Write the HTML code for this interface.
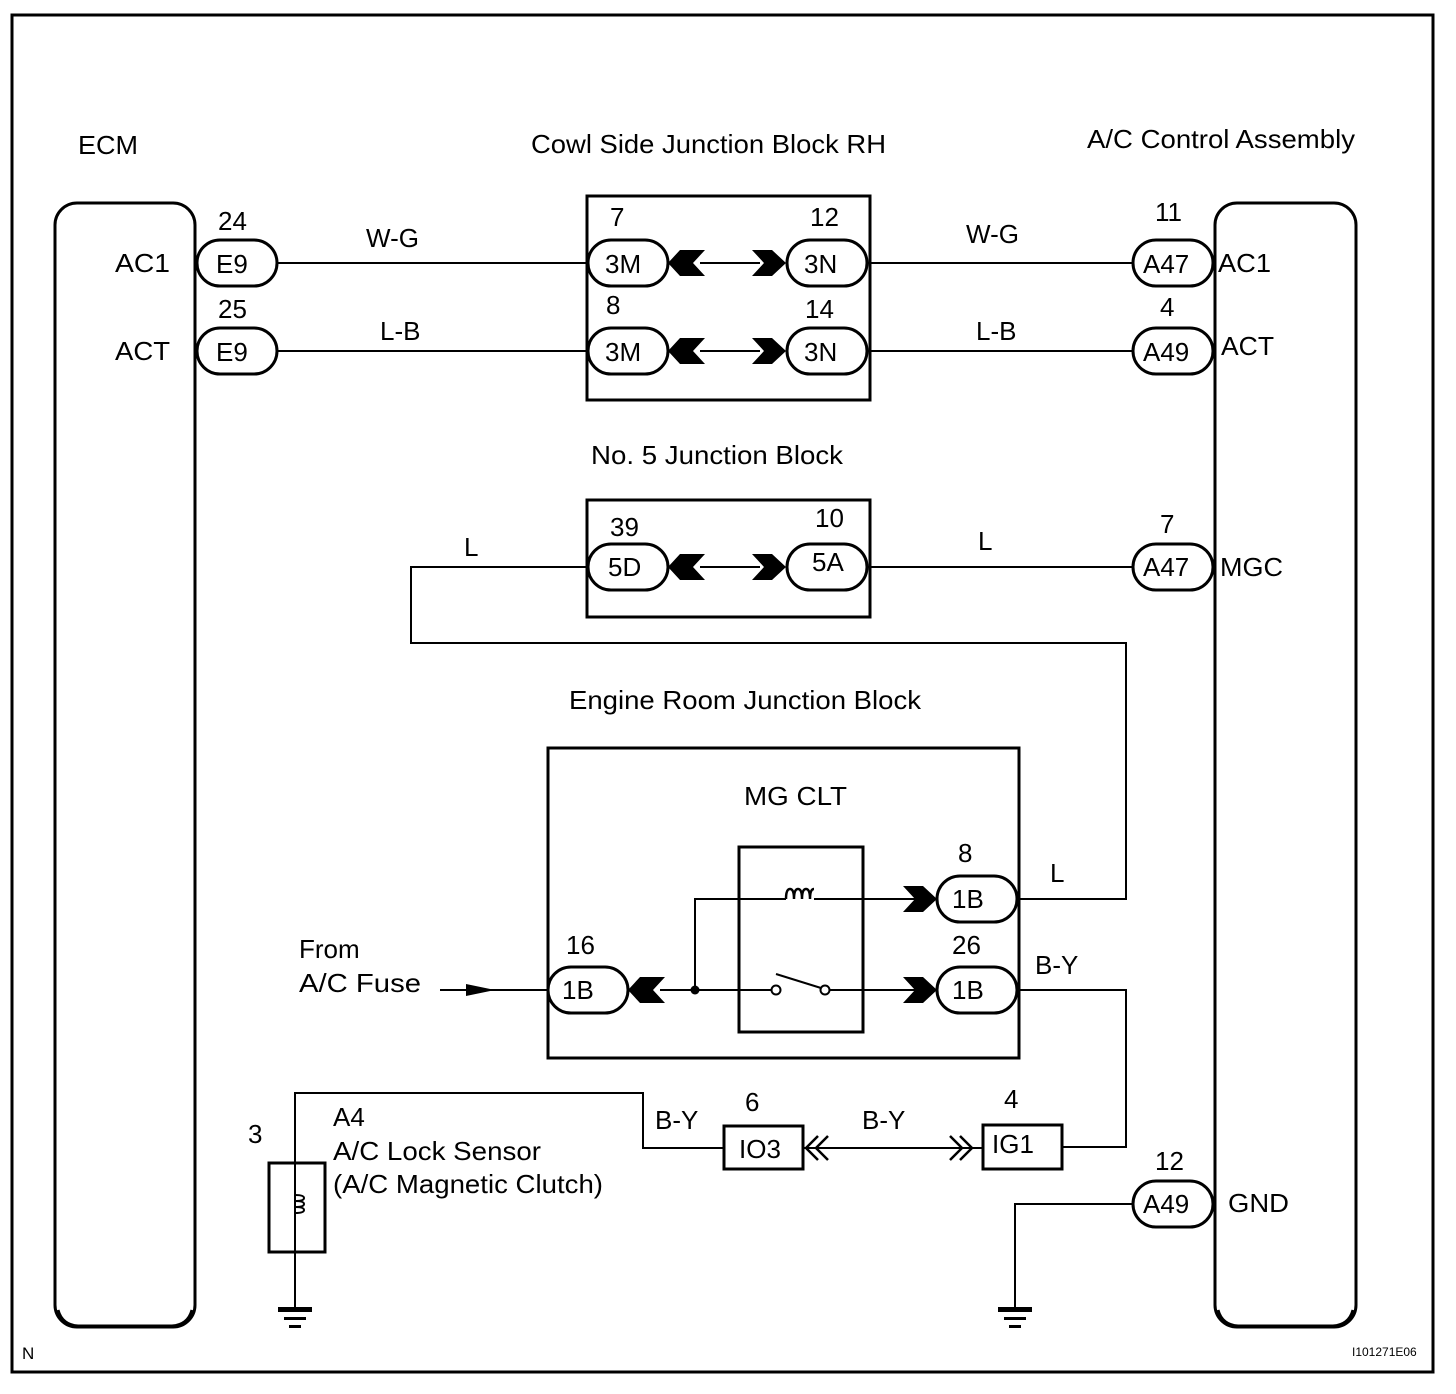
<!DOCTYPE html>
<html><head><style>
html,body{margin:0;padding:0;background:#fff;}
svg{display:block;}
text{font-family:"Liberation Sans",Arial,sans-serif;font-size:26px;fill:#000;}
</style></head><body>
<svg width="1456" height="1394" viewBox="0 0 1456 1394" xmlns="http://www.w3.org/2000/svg">
<defs>
<g id="fem"><polygon points="0,0 12,-13 37,-13 25,0 37,13 12,13" fill="#000"/></g>
<g id="mal"><polygon points="0,0 -14,-13 -34,-13 -22,0 -34,13 -14,13" fill="#000"/></g>
</defs>
<rect x="12" y="15" width="1421" height="1357" fill="none" stroke="#000" stroke-width="3"/>

<!-- ECM -->
<rect x="55" y="203" width="140" height="1124" rx="22" fill="none" stroke="#000" stroke-width="3"/>
<path d="M58,1310 Q62,1325 78,1326 H172 Q188,1325 192,1310" fill="none" stroke="#000" stroke-width="3"/>
<text x="78" y="154" textLength="60" lengthAdjust="spacingAndGlyphs">ECM</text>
<text x="115" y="272" textLength="55" lengthAdjust="spacingAndGlyphs">AC1</text>
<text x="115" y="360" textLength="55" lengthAdjust="spacingAndGlyphs">ACT</text>
<!-- A/C box -->
<rect x="1215" y="203" width="141" height="1124" rx="22" fill="none" stroke="#000" stroke-width="3"/>
<path d="M1218,1310 Q1222,1325 1238,1326 H1333 Q1349,1325 1353,1310" fill="none" stroke="#000" stroke-width="3"/>
<text x="1087" y="148" textLength="268" lengthAdjust="spacingAndGlyphs">A/C Control Assembly</text>
<text x="1218" y="272" textLength="53" lengthAdjust="spacingAndGlyphs">AC1</text>
<text x="1221" y="355" textLength="53" lengthAdjust="spacingAndGlyphs">ACT</text>
<text x="1220" y="576" textLength="63" lengthAdjust="spacingAndGlyphs">MGC</text>
<text x="1228" y="1212" textLength="61" lengthAdjust="spacingAndGlyphs">GND</text>

<g fill="#fff" stroke="#000" stroke-width="3">
<rect x="197" y="240" width="80" height="46" rx="23"/>
<rect x="197" y="328" width="80" height="46" rx="23"/>
<rect x="1133" y="240" width="80" height="46" rx="23"/>
<rect x="1133" y="328" width="80" height="46" rx="23"/>
<rect x="1133" y="544" width="80" height="46" rx="23"/>
<rect x="1133" y="1181" width="80" height="46" rx="23"/>
</g>
<g stroke="#000" stroke-width="2" fill="none">
<line x1="277" y1="263" x2="588" y2="263"/>
<line x1="277" y1="351" x2="588" y2="351"/>
<line x1="868" y1="263" x2="1133" y2="263"/>
<line x1="868" y1="351" x2="1133" y2="351"/>
<line x1="868" y1="567" x2="1133" y2="567"/>
<polyline points="588,567 411,567 411,643 1126,643 1126,899 1018,899"/>
<polyline points="1018,990 1126,990 1126,1147 1062,1147"/>
<polyline points="1133,1204 1015,1204 1015,1308"/>
<polyline points="724,1148 643,1148 643,1093 295,1093 295,1308"/>
<line x1="803" y1="1148" x2="983" y2="1148"/>
<line x1="440" y1="990" x2="548" y2="990"/>
</g>
<polygon points="466,984 495,990 466,996" fill="#000"/>
<text x="218" y="230">24</text><text x="218" y="318">25</text>
<text x="216" y="273">E9</text><text x="216" y="361">E9</text>
<text x="366" y="247">W-G</text><text x="380" y="340">L-B</text>
<text x="966" y="243">W-G</text><text x="976" y="340">L-B</text>
<text x="1155" y="221">11</text><text x="1160" y="316">4</text>
<text x="1143" y="273">A47</text><text x="1143" y="361">A49</text>
<text x="1160" y="533">7</text><text x="1143" y="576">A47</text>
<text x="1155" y="1170">12</text><text x="1143" y="1213">A49</text>
<text x="464" y="556">L</text><text x="978" y="550">L</text>

<!-- Cowl block -->
<text x="531" y="153" textLength="355" lengthAdjust="spacingAndGlyphs">Cowl Side Junction Block RH</text>
<rect x="587" y="196" width="283" height="204" fill="none" stroke="#000" stroke-width="3"/>
<g stroke="#000" stroke-width="2"><line x1="700" y1="263" x2="760" y2="263"/><line x1="700" y1="351" x2="760" y2="351"/><line x1="700" y1="567" x2="760" y2="567"/></g>
<g fill="#fff" stroke="#000" stroke-width="3">
<rect x="588" y="240" width="80" height="46" rx="23"/>
<rect x="588" y="328" width="80" height="46" rx="23"/>
<rect x="787" y="240" width="80" height="46" rx="23"/>
<rect x="787" y="328" width="80" height="46" rx="23"/>
</g>
<use href="#fem" x="668" y="263"/><use href="#fem" x="668" y="351"/>
<use href="#mal" x="786" y="263"/><use href="#mal" x="786" y="351"/>
<text x="610" y="226">7</text><text x="810" y="226">12</text>
<text x="606" y="314">8</text><text x="805" y="318">14</text>
<text x="605" y="273">3M</text><text x="605" y="361">3M</text>
<text x="804" y="273">3N</text><text x="804" y="361">3N</text>

<!-- No 5 -->
<text x="591" y="464" textLength="252" lengthAdjust="spacingAndGlyphs">No. 5 Junction Block</text>
<rect x="587" y="500" width="283" height="117" fill="none" stroke="#000" stroke-width="3"/>
<g fill="#fff" stroke="#000" stroke-width="3">
<rect x="588" y="544" width="80" height="46" rx="23"/>
<rect x="787" y="544" width="80" height="46" rx="23"/>
</g>
<use href="#fem" x="668" y="567"/><use href="#mal" x="786" y="567"/>
<text x="610" y="536">39</text><text x="815" y="527">10</text>
<text x="608" y="576">5D</text><text x="812" y="571">5A</text>

<!-- Engine room -->
<text x="569" y="709" textLength="352" lengthAdjust="spacingAndGlyphs">Engine Room Junction Block</text>
<rect x="548" y="748" width="471" height="310" fill="none" stroke="#000" stroke-width="3"/>
<text x="744" y="805" textLength="103" lengthAdjust="spacingAndGlyphs">MG CLT</text>
<rect x="739" y="847" width="124" height="185" fill="none" stroke="#000" stroke-width="3"/>
<g stroke="#000" stroke-width="2" fill="none">
<polyline points="660,990 771,990"/>
<polyline points="829,990 920,990"/>
<polyline points="695,990 695,899 786,899"/>
<polyline points="814,899 920,899"/>
<line x1="776" y1="974" x2="821" y2="988"/>
</g>
<path d="M786,899 q0,-10 4,-10 q4,0 4,10 q0,-10 4,-10 q4,0 4,10 q0,-10 4,-10 q4,0 4,10 q0,-10 4,-10" fill="none" stroke="#000" stroke-width="2.5"/>
<circle cx="695" cy="990" r="4.5" fill="#000"/>
<circle cx="776" cy="990" r="4.5" fill="#fff" stroke="#000" stroke-width="2"/>
<circle cx="825" cy="990" r="4.5" fill="#fff" stroke="#000" stroke-width="2"/>
<g fill="#fff" stroke="#000" stroke-width="3">
<rect x="548" y="967" width="80" height="46" rx="23"/>
<rect x="937" y="876" width="80" height="46" rx="23"/>
<rect x="937" y="967" width="80" height="46" rx="23"/>
</g>
<use href="#fem" x="628" y="990"/>
<use href="#mal" x="937" y="899"/><use href="#mal" x="937" y="990"/>
<text x="566" y="954">16</text><text x="958" y="862">8</text><text x="952" y="954">26</text>
<text x="562" y="999">1B</text><text x="952" y="908">1B</text><text x="952" y="999">1B</text>
<text x="1050" y="882">L</text><text x="1035" y="974">B-Y</text>
<text x="299" y="958">From</text><text x="299" y="992" textLength="122" lengthAdjust="spacingAndGlyphs">A/C  Fuse</text>

<!-- bottom -->
<rect x="724" y="1126" width="79" height="43" fill="#fff" stroke="#000" stroke-width="3"/>
<rect x="983" y="1125" width="79" height="44" fill="#fff" stroke="#000" stroke-width="3"/>
<text x="739" y="1158">IO3</text><text x="992" y="1153">IG1</text>
<text x="745" y="1111">6</text><text x="1004" y="1108">4</text>
<text x="655" y="1129">B-Y</text><text x="862" y="1129">B-Y</text>
<polyline points="818,1136 806,1148 818,1160" fill="none" stroke="#000" stroke-width="2.5"/>
<polyline points="828,1136 816,1148 828,1160" fill="none" stroke="#000" stroke-width="2.5"/>
<polyline points="950,1136 962,1148 950,1160" fill="none" stroke="#000" stroke-width="2.5"/>
<polyline points="960,1136 972,1148 960,1160" fill="none" stroke="#000" stroke-width="2.5"/>
<rect x="269" y="1163" width="56" height="89" fill="none" stroke="#000" stroke-width="3"/>
<path d="M295,1195 q9,0 9,3 q0,3 -9,3 q9,0 9,3 q0,3 -9,3 q9,0 9,3 q0,3 -9,3" fill="none" stroke="#000" stroke-width="2"/>
<text x="248" y="1143">3</text>
<text x="333" y="1126">A4</text>
<text x="333" y="1160" textLength="208" lengthAdjust="spacingAndGlyphs">A/C Lock Sensor</text>
<text x="333" y="1193" textLength="270" lengthAdjust="spacingAndGlyphs">(A/C Magnetic Clutch)</text>
<g fill="#000">
<rect x="278" y="1307" width="34" height="5"/><rect x="284" y="1317" width="22" height="3"/><rect x="289" y="1325" width="12" height="3"/>
<rect x="998" y="1307" width="34" height="5"/><rect x="1004" y="1317" width="22" height="3"/><rect x="1009" y="1325" width="12" height="3"/>
</g>
<text x="22" y="1359" style="font-size:17px">N</text>
<text x="1352" y="1356" style="font-size:12px">I101271E06</text>
</svg>
</body></html>
